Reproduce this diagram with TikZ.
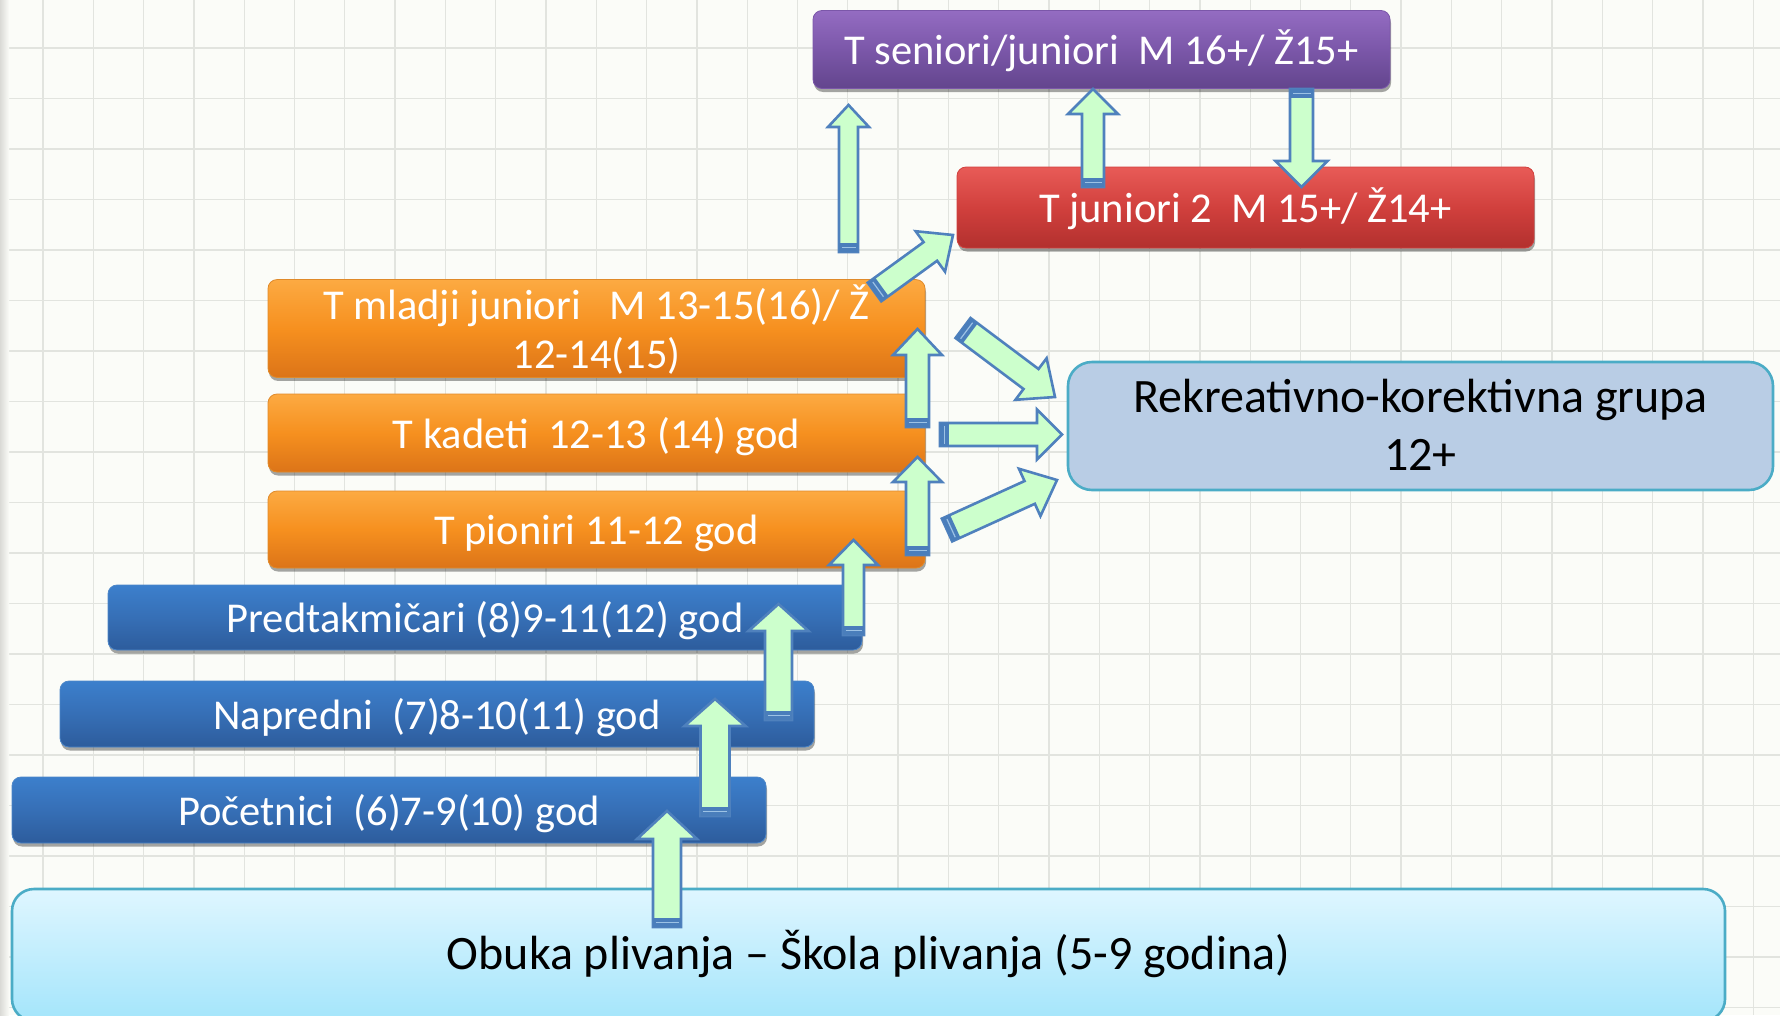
\documentclass[tikz,border=0pt]{standalone}
\usepackage{fontspec}
\setmainfont{Carlito}
\usetikzlibrary{calc,shadows}

\definecolor{bg}{HTML}{FBFCF8}
\definecolor{gridc}{HTML}{E2E4DF}
\definecolor{edgegray}{HTML}{DADAD6}
\definecolor{blueT}{HTML}{3C7FCC}
\definecolor{blueM}{HTML}{366FB6}
\definecolor{blueB}{HTML}{2D5C9C}
\definecolor{blueEdge}{HTML}{4C86C8}
\definecolor{orT}{HTML}{FCAA42}
\definecolor{orM}{HTML}{F6901F}
\definecolor{orB}{HTML}{DC7418}
\definecolor{orEdge}{HTML}{E08A2A}
\definecolor{puT}{HTML}{946CC2}
\definecolor{puM}{HTML}{7B57A9}
\definecolor{puB}{HTML}{63458D}
\definecolor{reT}{HTML}{E85B57}
\definecolor{reM}{HTML}{D1403D}
\definecolor{reB}{HTML}{B2302E}
\definecolor{tealline}{HTML}{4BACC6}
\definecolor{rekfill}{HTML}{B9CDE5}
\definecolor{obT}{HTML}{DFF6FF}
\definecolor{obB}{HTML}{A4E5FB}
\definecolor{arrfill}{HTML}{CCFFCC}
\definecolor{arrline}{HTML}{4F81BD}
\definecolor{bandc}{HTML}{4A7EBB}
\definecolor{bandlight}{HTML}{9CC2E5}

% block arrow: #1 tail, #2 tip, #3 shaft half width, #4 head half width, #5 head length
\newcommand\blockarrow[5]{%
  \coordinate (ba-n) at ($(#2)!#5!(#1)$);
  \coordinate (ba-b) at ($(#1)!9pt!(#2)$);
  \coordinate (ba-l) at ($(#1)!4.5pt!(#2)$);
  \filldraw[arrowbody]
    ($(#1)!#3!90:(#2)$) -- ($(ba-n)!#3!90:(#2)$) -- ($(ba-n)!#4!90:(#2)$) --
    (#2) --
    ($(ba-n)!#4!-90:(#2)$) -- ($(ba-n)!#3!-90:(#2)$) -- ($(#1)!#3!-90:(#2)$) -- cycle;
  \fill[bandc]
    ($(#1)!#3!90:(#2)$) -- ($(ba-b)!#3!90:(#2)$) --
    ($(ba-b)!#3!-90:(#2)$) -- ($(#1)!#3!-90:(#2)$) -- cycle;
  \draw[bandlight, line width=1.2pt, shorten >=2.5pt, shorten <=2.5pt]
    ($(ba-l)!#3!90:(#2)$) -- ($(ba-l)!#3!-90:(#2)$);
}
% struts fixing the first-line height and last-line depth of two-line labels
\newcommand\topstrut[1]{\rule{0pt}{#1}}
\newcommand\botstrut[1]{\rule[-#1]{0pt}{#1}}

\begin{document}
\begin{tikzpicture}[x=1pt, y=-1pt,
  gridline/.style={gridc, line width=1.3pt},
  tbox/.style={rectangle, rounded corners=9pt, inner sep=0pt, align=center,
    text=white, font=\fontsize{42.5}{49}\selectfont,
    drop shadow={shadow xshift=1pt, shadow yshift=-3.5pt, opacity=0.35, fill=black}},
  oneline/.style={text height=30pt, text depth=0pt},
  bluebox/.style={tbox, oneline, top color=blueT, bottom color=blueB, middle color=blueM,
    draw=blueEdge, line width=0.8pt},
  orangebox/.style={tbox, top color=orT, bottom color=orB, middle color=orM,
    draw=orEdge, line width=0.8pt},
  purplebox/.style={tbox, oneline, top color=puT, bottom color=puB, middle color=puM,
    draw=puM, line width=0.8pt},
  redbox/.style={tbox, oneline, top color=reT, bottom color=reB, middle color=reM,
    draw=reM, line width=0.8pt},
  rekbox/.style={rectangle, rounded corners=24pt, inner sep=0pt, align=center,
    fill=rekfill, draw=tealline, line width=2.6pt,
    font=\fontsize{48}{58}\selectfont},
  obukabox/.style={rectangle, rounded corners=22pt, inner sep=0pt, align=center,
    top color=obT, bottom color=obB, draw=tealline, line width=2.6pt,
    font=\fontsize{48}{56}\selectfont, text height=29pt, text depth=1pt},
  arrowbody/.style={fill=arrfill, draw=arrline, line width=2.6pt, line join=miter}]

\useasboundingbox (0,0) rectangle (1780,1015);
\clip (0,0) rectangle (1780,1015);

% squared paper background
\fill[bg] (0,0) rectangle (1780,1015);
\foreach \i in {0,...,34} \draw[gridline] ({43+50.3*\i},0) -- ({43+50.3*\i},1015);
\foreach \j in {0,...,20} \draw[gridline] (0,{-2.5+50.5*\j}) -- (1780,{-2.5+50.5*\j});
\shade[left color=edgegray, right color=bg] (0,0) rectangle (9,1015);

% swimming school base
\node[obukabox, minimum width=1713pt, minimum height=132pt] (obuka) at (868.5,955)
  {Obuka plivanja – Škola plivanja (5-9 godina)};

% school groups
\node[bluebox, minimum width=754pt, minimum height=66pt] (poc) at (389,810)
  {Početnici\ \ (6)7-9(10) god};
\node[bluebox, minimum width=754pt, minimum height=66pt] (napr) at (437,714)
  {Napredni\ \ (7)8-10(11) god};
\node[bluebox, minimum width=754pt, minimum height=65pt] (pred) at (485,617.5)
  {Predtakmičari (8)9-11(12) god};

% competitive groups
\node[orangebox, oneline, minimum width=657pt, minimum height=77pt] (pion) at (596.5,529.5)
  {T pioniri 11-12 god};
\node[orangebox, oneline, minimum width=657pt, minimum height=78pt] (kad) at (596.5,433)
  {T kadeti\ \ 12-13 (14) god};
\node[orangebox, minimum width=657pt, minimum height=93pt] (mlad) at (596.5,328.5)
  {\topstrut{0.95em}T mladji juniori\ \ \ M 13-15(16)/ Ž\\12-14(15)\botstrut{0.2em}};
\node[redbox, minimum width=577pt, minimum height=81pt] (jun2) at (1245.5,207.5)
  {T juniori 2\ \ M 15+/ Ž14+};
\node[purplebox, minimum width=577pt, minimum height=78pt] (sen) at (1101.5,49.5)
  {T seniori/juniori\ \ M 16+/ Ž15+};

% recreational group
\node[rekbox, minimum width=705pt, minimum height=128pt] (rek) at (1420.5,426)
  {\topstrut{0.84em}Rekreativno-korektivna grupa\\12+\botstrut{0.2em}};

% arrow end points
\coordinate (a1t) at (667,927);     \coordinate (a1h) at (667,811);
\coordinate (a2t) at (715,816);     \coordinate (a2h) at (715,699);
\coordinate (a3t) at (778.5,720);   \coordinate (a3h) at (778.5,604);
\coordinate (a4t) at (853.5,635);   \coordinate (a4h) at (853.5,540);
\coordinate (a5t) at (917.5,555);   \coordinate (a5h) at (917.5,457);
\coordinate (a6t) at (917.5,427);   \coordinate (a6h) at (917.5,329);
\coordinate (a7t) at (848.5,252);   \coordinate (a7h) at (848.5,105);
\coordinate (a8t) at (874.5,292);   \coordinate (a8h) at (953,235);
\coordinate (a9t) at (1093,187);    \coordinate (a9h) at (1093,89);
\coordinate (a10t) at (1301.5,89);  \coordinate (a10h) at (1301.5,187);
\coordinate (a11t) at (963,328);    \coordinate (a11h) at (1055,397);
\coordinate (a12t) at (940,434.5);  \coordinate (a12h) at (1062,434.5);
\coordinate (a13t) at (947,530);    \coordinate (a13h) at (1057,480);

% progression arrows
\blockarrow{a1t}{a1h}{14pt}{30pt}{28pt}
\blockarrow{a2t}{a2h}{14.5pt}{30.5pt}{27pt}
\blockarrow{a3t}{a3h}{13.5pt}{30pt}{27pt}
\blockarrow{a4t}{a4h}{10.5pt}{24.5pt}{25pt}
\blockarrow{a5t}{a5h}{11.5pt}{24.5pt}{25pt}
\blockarrow{a6t}{a6h}{11.5pt}{24.5pt}{26pt}
\blockarrow{a7t}{a7h}{9.5pt}{20.5pt}{22pt}
\blockarrow{a8t}{a8h}{11.5pt}{25pt}{28pt}
\blockarrow{a9t}{a9h}{11pt}{25pt}{25pt}
\blockarrow{a10t}{a10h}{11.5pt}{26pt}{26pt}
\blockarrow{a11t}{a11h}{12.5pt}{26pt}{30pt}
\blockarrow{a12t}{a12h}{11.5pt}{25pt}{25pt}
\blockarrow{a13t}{a13h}{12.5pt}{26pt}{30pt}

\end{tikzpicture}
\end{document}
